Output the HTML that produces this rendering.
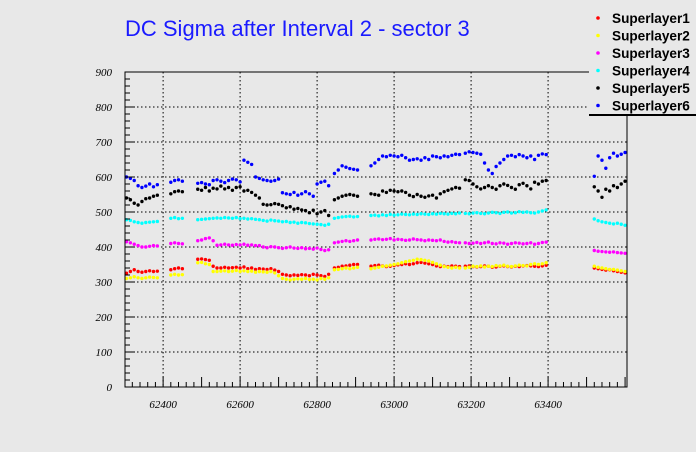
<!DOCTYPE html>
<html><head><meta charset="utf-8"><style>
body{margin:0;background:#e8e8e8;}
svg{display:block;font-family:"Liberation Sans",sans-serif;}
</style></head><body>
<svg id="c" width="696" height="452" viewBox="0 0 696 452">
<rect width="696" height="452" fill="#e8e8e8"/>
<text x="125" y="36" font-size="22" fill="#1a1aff">DC Sigma after Interval 2 - sector 3</text>
<g id="grid"></g>
<g id="pts"></g>
<g id="axes"></g>
<g>
<rect x="589" y="0" width="107" height="114" fill="#e8e8e8"/>
<line x1="589" y1="115" x2="696" y2="115" stroke="#000" stroke-width="2"/>
<g id="leg"></g>
</g>
</svg>
<script>
const runs=[62305,62315,62325,62335,62345,62355,62365,62375,62385,
62420,62430,62440,62450,
62490,62500,62510,62520,62530,62540,62550,62560,62570,62580,62590,62600,62610,62620,62630,62640,62650,62660,62670,62680,62690,62700,62710,62720,62730,62740,62750,62760,62770,62780,62790,62800,62810,62820,62830,
62845,62855,62865,62875,62885,62895,62905,
62940,62950,62960,62970,62980,62990,63000,63010,63020,63030,63040,63050,63060,63070,63080,63090,63100,63110,63120,63130,63140,63150,63160,63170,
63185,63195,63205,63215,63225,63235,63245,63255,63265,63275,63285,63295,63305,63315,63325,63335,63345,63355,63365,63375,63385,63395,
63520,63530,63540,63550,63560,63570,63580,63590,63600];
const sl1=[325,330,335,330,328,330,332,330,331, 335,338,340,338,
365,366,364,362,345,340,340,342,340,341,342,340,343,338,340,336,338,337,336,338,334,330,322,320,318,320,319,321,320,318,322,320,318,316,322,
340,342,345,346,348,350,350, 345,347,348,346,344,345,347,349,350,352,350,352,355,356,354,352,350,346,344,345,344,346,345,344,
345,346,344,343,344,346,345,342,343,345,346,344,343,345,344,346,347,346,345,344,346,348,
340,338,336,334,335,332,330,328,326];
const sl2=[310,312,315,312,310,312,314,313,312, 320,322,320,321,
355,356,352,350,330,330,331,332,330,331,333,330,332,330,331,328,330,329,328,330,326,318,310,308,306,308,309,308,310,307,308,306,310,308,312,
335,336,338,340,338,340,342, 338,340,342,345,346,348,350,352,355,358,360,362,365,364,362,360,356,352,348,344,342,340,342,340,
340,342,345,344,346,343,345,344,347,346,348,345,344,346,348,347,346,350,352,350,352,355,
345,342,340,338,336,336,334,332,330];
const sl3=[415,412,408,404,400,400,402,404,403, 410,412,410,409,
418,420,424,426,418,405,406,408,406,405,407,406,408,405,406,404,404,400,398,401,400,398,396,398,400,397,396,398,395,396,394,397,393,390,392,
412,414,416,418,416,418,420, 420,422,423,421,422,424,420,422,421,419,420,423,421,420,418,420,419,418,420,416,414,415,413,412,
412,410,411,413,410,412,414,410,409,412,411,408,410,412,411,409,410,412,408,410,413,414,
390,388,387,386,385,386,384,383,382];
const sl4=[478,476,472,470,468,470,471,472,473, 482,484,481,482,
478,479,480,481,482,483,482,484,483,482,484,481,482,480,481,479,478,476,474,477,475,474,472,473,470,471,468,470,469,467,466,465,464,462,465,
482,484,486,487,488,486,487, 490,491,489,492,490,493,491,492,494,493,492,494,493,495,494,493,495,494,496,495,494,496,495,497,
496,495,497,498,496,495,497,499,498,496,499,500,497,498,501,499,500,498,497,500,503,506,
480,475,472,470,468,466,468,465,462];
const sl5=[540,535,525,520,530,538,540,545,548, 552,558,560,558,
565,562,570,560,568,566,574,566,570,562,570,572,560,562,556,548,540,522,520,521,524,522,518,512,515,508,510,506,504,498,505,495,500,504,490,
535,540,545,548,550,548,545, 552,550,548,560,556,562,560,558,560,556,548,544,550,545,542,546,548,540,552,558,562,566,570,568,
592,590,580,572,566,570,575,570,565,575,580,576,570,565,578,582,575,566,585,580,588,590,
572,560,542,565,560,575,570,580,588];
const sl6=[600,596,590,575,570,574,580,572,578, 585,590,592,588,
582,584,580,578,590,592,588,584,590,594,592,586,648,642,636,600,596,592,590,588,590,594,555,552,550,556,548,552,558,552,545,580,585,588,575,
610,620,632,628,624,622,620, 632,640,650,660,658,662,660,658,662,655,648,650,652,648,655,650,660,658,655,660,658,662,665,664,
668,672,670,668,665,640,620,610,630,640,650,660,662,658,664,660,655,660,650,662,666,664,
602,660,648,625,655,668,660,665,670];
const series=[["Superlayer1",sl1,"#ff0000"],["Superlayer2",sl2,"#ffff00"],["Superlayer3",sl3,"#ff00ff"],["Superlayer4",sl4,"#00ffff"],["Superlayer5",sl5,"#000000"],["Superlayer6",sl6,"#0000ff"]];
const yTicks=[0,100,200,300,400,500,600,700,800,900];
const xTicks=[62400,62600,62800,63000,63200,63400];
const X0=125,X1=627,Y0=387,Y1=72,xmin=62301,xmax=63605,ymin=0,ymax=900;
const xs=v=>X0+(v-xmin)/(xmax-xmin)*(X1-X0);
const ys=v=>Y0-(v-ymin)/(ymax-ymin)*(Y0-Y1);
const NS="http://www.w3.org/2000/svg";
function mk(p,t,a){const e=document.createElementNS(NS,t);for(const k in a)e.setAttribute(k,a[k]);p.appendChild(e);return e;}
const grid=document.getElementById('grid'),axes=document.getElementById('axes'),pts=document.getElementById('pts');
yTicks.forEach(v=>{if(v>0&&v<900){const l=mk(grid,'line',{x1:X0,x2:X1,y1:ys(v),y2:ys(v),stroke:'#000','stroke-dasharray':'1.5,2.5','stroke-width':1});

}});
xTicks.forEach(v=>{const l=mk(grid,'line',{x1:xs(v),x2:xs(v),y1:Y1,y2:Y0,stroke:'#000','stroke-dasharray':'1.5,2.5','stroke-width':1});

});
series.forEach(s=>{const g=mk(pts,'g',{fill:s[2]});


runs.forEach((r,i)=>{const c=mk(g,'circle',{cx:xs(r),cy:ys(s[1][i]),r:1.7});

});});
const fr=mk(axes,'rect',{x:X0,y:Y1,width:X1-X0,height:Y0-Y1,fill:'none',stroke:'#000','stroke-width':1});


for(let v=0;v<=900;v+=20){mk(axes,'line',{x1:X0,x2:X0+(v%100?5:10),y1:ys(v),y2:ys(v),stroke:'#000'});}
yTicks.forEach(v=>{const t=mk(axes,'text',{x:X0-13,y:ys(v)+4,'text-anchor':'end','font-size':11,'font-style':'italic','font-family':'Liberation Serif,serif'});t.textContent=v;

});
for(let v=62320;v<=63600;v+=20){mk(axes,'line',{x1:xs(v),x2:xs(v),y1:Y0,y2:Y0-(v%100?5:10),stroke:'#000'});}
xTicks.forEach(v=>{const t=mk(axes,'text',{x:xs(v),y:Y0+21,'text-anchor':'middle','font-size':11,'font-style':'italic','font-family':'Liberation Serif,serif'});t.textContent=v;

});
const leg=document.getElementById('leg');
series.forEach((s,i)=>{const y=18+i*17.5;mk(leg,'circle',{cx:598,cy:y,r:1.8,fill:s[2]});
const t=mk(leg,'text',{x:612,y:y+5,'font-size':13.6,'font-weight':'bold'});t.textContent=s[0];

});
</script>
</body></html>
